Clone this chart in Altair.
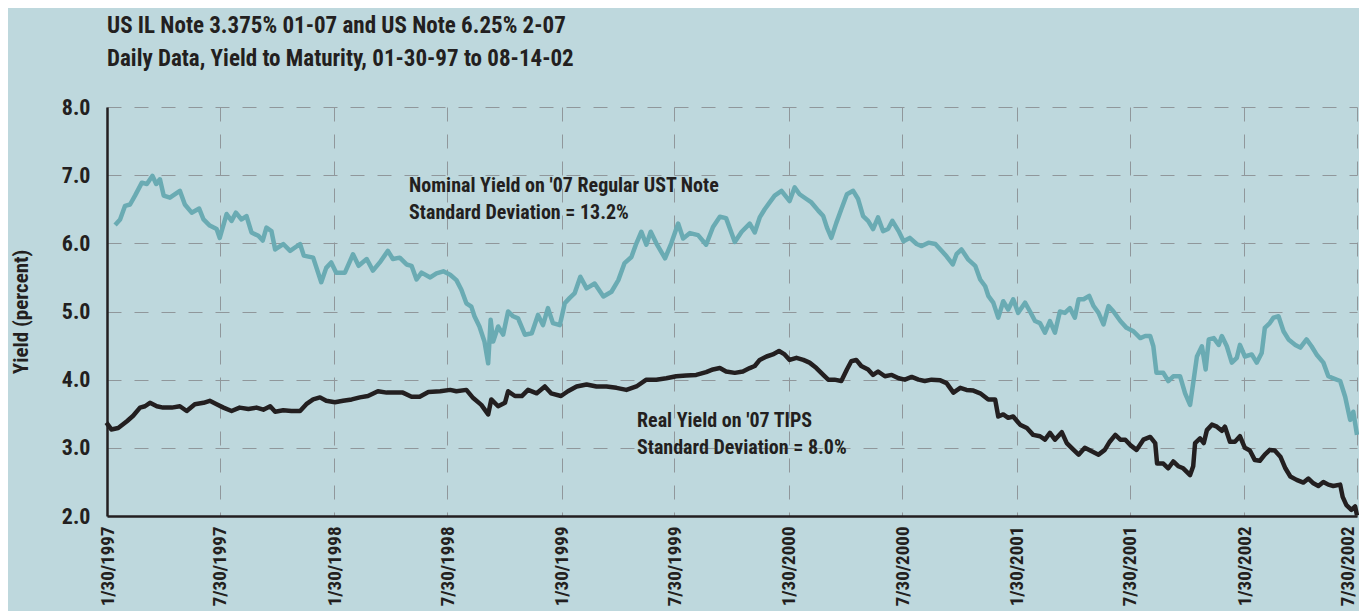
import altair as alt
import pandas as pd

TITLE = ["US IL Note 3.375% 01-07 and US Note 6.25% 2-07",
         "Daily Data, Yield to Maturity, 01-30-97 to 08-14-02"]

# time as decimal years, yields in percent
nominal_t = [
    1997.115, 1997.137, 1997.159, 1997.181, 1997.203, 1997.232, 1997.254, 1997.280, 1997.295, 1997.313,
    1997.330, 1997.357, 1997.400, 1997.422, 1997.452, 1997.485, 1997.503, 1997.532, 1997.562, 1997.576,
    1997.606, 1997.628, 1997.647, 1997.672, 1997.694, 1997.716, 1997.745, 1997.764, 1997.782, 1997.803,
    1997.818, 1997.855, 1997.884, 1997.928, 1997.946, 1997.987, 1998.023, 1998.045, 1998.067, 1998.089,
    1998.126, 1998.163, 1998.185, 1998.221, 1998.250, 1998.280, 1998.316, 1998.338, 1998.368, 1998.397,
    1998.419, 1998.441, 1998.463, 1998.500, 1998.529, 1998.558, 1998.588, 1998.617, 1998.639, 1998.661,
    1998.683, 1998.697, 1998.719, 1998.741, 1998.756, 1998.766, 1998.778, 1998.800, 1998.822, 1998.844,
    1998.866, 1998.888, 1998.917, 1998.947, 1998.976, 1998.998, 1999.020, 1999.042, 1999.071, 1999.093,
    1999.115, 1999.137, 1999.162, 1999.188, 1999.225, 1999.262, 1999.298, 1999.328, 1999.357, 1999.386,
    1999.408, 1999.430, 1999.452, 1999.470, 1999.496, 1999.533, 1999.562, 1999.591, 1999.613, 1999.643,
    1999.679, 1999.716, 1999.745, 1999.775, 1999.804, 1999.840, 1999.870, 1999.906, 1999.928, 1999.950,
    1999.972, 1999.994, 2000.016, 2000.046, 2000.082, 2000.104, 2000.126, 2000.156, 2000.178, 2000.207,
    2000.229, 2000.247, 2000.266, 2000.288, 2000.310, 2000.332, 2000.361, 2000.383, 2000.405, 2000.427,
    2000.449, 2000.471, 2000.493, 2000.515, 2000.534, 2000.559, 2000.581, 2000.610, 2000.639, 2000.661,
    2000.691, 2000.720, 2000.749, 2000.771, 2000.798, 2000.815, 2000.837, 2000.866, 2000.896, 2000.918,
    2000.940, 2000.954, 2000.976, 2000.998, 2001.020, 2001.042, 2001.064, 2001.086, 2001.116, 2001.138,
    2001.160, 2001.182, 2001.204, 2001.225, 2001.247, 2001.269, 2001.291, 2001.313, 2001.335, 2001.350,
    2001.372, 2001.398, 2001.416, 2001.438, 2001.460, 2001.482, 2001.504, 2001.533, 2001.563, 2001.592,
    2001.621, 2001.643, 2001.665, 2001.680, 2001.694, 2001.724, 2001.746, 2001.768, 2001.797, 2001.819,
    2001.841, 2001.856, 2001.870, 2001.892, 2001.910, 2001.922, 2001.944, 2001.966, 2001.980, 2002.002,
    2002.024, 2002.046, 2002.061, 2002.083, 2002.112, 2002.134, 2002.156, 2002.171, 2002.193, 2002.207,
    2002.229, 2002.251, 2002.273, 2002.303, 2002.325, 2002.354, 2002.376, 2002.398, 2002.427, 2002.449,
    2002.471, 2002.501, 2002.522, 2002.544, 2002.559, 2002.574,
]
nominal_yield = [
    6.27, 6.35, 6.55, 6.57, 6.70, 6.89, 6.87, 6.99, 6.87, 6.94,
    6.70, 6.67, 6.77, 6.57, 6.45, 6.51, 6.35, 6.26, 6.21, 6.08,
    6.43, 6.33, 6.45, 6.35, 6.40, 6.16, 6.11, 6.04, 6.23, 6.18,
    5.91, 5.99, 5.89, 5.99, 5.82, 5.79, 5.43, 5.64, 5.72, 5.57,
    5.57, 5.84, 5.67, 5.77, 5.60, 5.72, 5.89, 5.77, 5.79, 5.69,
    5.67, 5.47, 5.57, 5.50, 5.56, 5.59, 5.54, 5.46, 5.32, 5.12,
    5.07, 4.93, 4.78, 4.56, 4.24, 4.88, 4.56, 4.78, 4.66, 5.00,
    4.93, 4.90, 4.66, 4.68, 4.95, 4.80, 5.05, 4.83, 4.80, 5.12,
    5.20, 5.27, 5.51, 5.34, 5.41, 5.22, 5.29, 5.46, 5.71, 5.80,
    6.00, 6.17, 5.98, 6.17, 6.00, 5.78, 6.00, 6.29, 6.07, 6.15,
    6.12, 5.98, 6.24, 6.39, 6.37, 6.02, 6.17, 6.29, 6.16, 6.38,
    6.50, 6.60, 6.70, 6.77, 6.62, 6.82, 6.72, 6.65, 6.60, 6.48,
    6.40, 6.23, 6.08, 6.30, 6.50, 6.72, 6.77, 6.65, 6.40, 6.33,
    6.21, 6.38, 6.18, 6.21, 6.33, 6.18, 6.03, 6.08, 5.99, 5.96,
    6.01, 5.99, 5.89, 5.81, 5.69, 5.84, 5.91, 5.76, 5.67, 5.47,
    5.37, 5.23, 5.13, 4.91, 5.15, 5.03, 5.18, 4.98, 5.13, 5.00,
    4.86, 4.83, 4.69, 4.86, 4.69, 5.00, 4.98, 5.05, 4.91, 5.18,
    5.18, 5.23, 5.08, 4.98, 4.81, 5.08, 5.00, 4.86, 4.76, 4.71,
    4.61, 4.64, 4.64, 4.49, 4.10, 4.10, 3.98, 4.05, 4.05, 3.80,
    3.63, 3.95, 4.34, 4.49, 4.15, 4.59, 4.61, 4.51, 4.64, 4.49,
    4.25, 4.32, 4.51, 4.34, 4.37, 4.25, 4.39, 4.76, 4.83, 4.91,
    4.93, 4.71, 4.59, 4.51, 4.47, 4.59, 4.49, 4.37, 4.25, 4.05,
    4.02, 3.98, 3.75, 3.41, 3.53, 3.19,
]

real_t = [
    1997.078, 1997.100, 1997.129, 1997.166, 1997.195, 1997.225, 1997.247, 1997.269, 1997.298, 1997.327,
    1997.364, 1997.400, 1997.430, 1997.466, 1997.503, 1997.532, 1997.562, 1997.591, 1997.628, 1997.664,
    1997.701, 1997.738, 1997.767, 1997.796, 1997.818, 1997.855, 1997.891, 1997.928, 1997.957, 1997.987,
    1998.016, 1998.045, 1998.082, 1998.119, 1998.155, 1998.192, 1998.228, 1998.272, 1998.309, 1998.346,
    1998.382, 1998.419, 1998.456, 1998.492, 1998.544, 1998.588, 1998.617, 1998.661, 1998.690, 1998.727,
    1998.756, 1998.771, 1998.800, 1998.829, 1998.844, 1998.873, 1998.903, 1998.932, 1998.969, 1999.005,
    1999.034, 1999.078, 1999.108, 1999.144, 1999.188, 1999.232, 1999.276, 1999.320, 1999.364, 1999.408,
    1999.452, 1999.496, 1999.540, 1999.584, 1999.628, 1999.672, 1999.716, 1999.745, 1999.775, 1999.804,
    1999.840, 1999.877, 1999.906, 1999.928, 1999.950, 1999.980, 2000.009, 2000.035, 2000.060, 2000.082,
    2000.112, 2000.141, 2000.170, 2000.200, 2000.229, 2000.251, 2000.280, 2000.309, 2000.332, 2000.353,
    2000.375, 2000.397, 2000.427, 2000.449, 2000.471, 2000.500, 2000.529, 2000.559, 2000.588, 2000.617,
    2000.647, 2000.676, 2000.705, 2000.742, 2000.771, 2000.800, 2000.830, 2000.859, 2000.888, 2000.918,
    2000.954, 2000.984, 2000.998, 2001.020, 2001.042, 2001.064, 2001.094, 2001.123, 2001.152, 2001.182,
    2001.204, 2001.225, 2001.247, 2001.277, 2001.299, 2001.328, 2001.350, 2001.379, 2001.409, 2001.438,
    2001.467, 2001.489, 2001.511, 2001.533, 2001.555, 2001.577, 2001.606, 2001.636, 2001.665, 2001.687,
    2001.697, 2001.724, 2001.746, 2001.768, 2001.790, 2001.812, 2001.841, 2001.856, 2001.863, 2001.885,
    2001.900, 2001.914, 2001.936, 2001.958, 2001.980, 2001.995, 2002.017, 2002.039, 2002.061, 2002.083,
    2002.105, 2002.127, 2002.149, 2002.171, 2002.193, 2002.215, 2002.237, 2002.259, 2002.281, 2002.310,
    2002.340, 2002.362, 2002.383, 2002.405, 2002.427, 2002.449, 2002.471, 2002.501, 2002.512, 2002.530,
    2002.552, 2002.567, 2002.574,
]
real_yield = [
    3.37, 3.27, 3.29, 3.39, 3.47, 3.59, 3.61, 3.66, 3.61, 3.59,
    3.59, 3.61, 3.54, 3.64, 3.66, 3.69, 3.64, 3.59, 3.54, 3.59,
    3.57, 3.59, 3.56, 3.61, 3.53, 3.55, 3.54, 3.54, 3.64, 3.71,
    3.74, 3.69, 3.67, 3.69, 3.71, 3.74, 3.76, 3.83, 3.81, 3.81,
    3.81, 3.75, 3.75, 3.82, 3.83, 3.85, 3.83, 3.85, 3.73, 3.63,
    3.49, 3.71, 3.61, 3.66, 3.83, 3.76, 3.76, 3.85, 3.80, 3.90,
    3.80, 3.76, 3.83, 3.90, 3.93, 3.90, 3.90, 3.88, 3.85, 3.90,
    4.00, 4.00, 4.02, 4.05, 4.06, 4.07, 4.11, 4.15, 4.17, 4.12,
    4.10, 4.12, 4.17, 4.20, 4.29, 4.34, 4.37, 4.42, 4.37, 4.29,
    4.32, 4.29, 4.25, 4.17, 4.07, 4.00, 4.00, 3.98, 4.15, 4.27,
    4.29, 4.20, 4.15, 4.07, 4.12, 4.05, 4.07, 4.02, 4.00, 4.04,
    4.00, 3.98, 4.00, 3.99, 3.95, 3.81, 3.88, 3.85, 3.84, 3.80,
    3.71, 3.71, 3.46, 3.49, 3.44, 3.46, 3.34, 3.29, 3.19, 3.17,
    3.12, 3.22, 3.12, 3.23, 3.07, 2.97, 2.90, 3.00, 2.95, 2.90,
    2.97, 3.09, 3.19, 3.12, 3.12, 3.04, 2.97, 3.12, 3.16, 3.07,
    2.77, 2.77, 2.70, 2.80, 2.73, 2.70, 2.60, 2.73, 3.07, 3.14,
    3.07, 3.26, 3.34, 3.31, 3.25, 3.31, 3.09, 3.09, 3.17, 3.00,
    2.96, 2.82, 2.81, 2.90, 2.97, 2.96, 2.87, 2.70, 2.58, 2.53,
    2.49, 2.55, 2.48, 2.44, 2.50, 2.46, 2.44, 2.46, 2.28, 2.16,
    2.09, 2.14, 2.01,
]

tick_dates = [(1997, 1), (1997, 7), (1998, 1), (1998, 7), (1999, 1), (1999, 7),
              (2000, 1), (2000, 7), (2001, 1), (2001, 7), (2002, 1), (2002, 7)]
y_ticks = [2, 3, 4, 5, 6, 7, 8]

note_text = ["Nominal Yield on '07 Regular UST Note\nStandard Deviation = 13.2%",
             "Real Yield on '07 TIPS\nStandard Deviation = 8.0%"]
note_t = [1998.407, 1999.410]
note_y = [6.75, 3.31]

SERIES = ["Nominal", "Real"]
COLORS = ["#6aabb3", "#231f20"]
FONT = "Roboto Condensed, DejaVu Sans Condensed, sans-serif"
INK = "#231f20"
BG = "#bed8dd"


def to_date(t):
    y = int(t)
    start = pd.Timestamp(year=y, month=1, day=1)
    end = pd.Timestamp(year=y + 1, month=1, day=1)
    return start + (end - start) * (t - y)


df = pd.concat([
    pd.DataFrame({"date": [to_date(t) for t in nominal_t], "yield": nominal_yield, "series": SERIES[0]}),
    pd.DataFrame({"date": [to_date(t) for t in real_t], "yield": real_yield, "series": SERIES[1]}),
], ignore_index=True)
df["date"] = df["date"].dt.round("D")

notes = pd.DataFrame({"date": [to_date(t).round("D") for t in note_t], "yield": note_y, "text": note_text})

x_scale = alt.Scale(domain=[alt.DateTime(year=1997, month=1, date=30),
                            alt.DateTime(year=2002, month=7, date=30)])
y_scale = alt.Scale(domain=[2, 8], nice=False, zero=False)

# nudge only the last (right-edge) label inward so it stays inside the picture
last_label_shift = alt.condition("datum.value > datetime(2002, 5, 1)", alt.value(-10), alt.value(0))

x_axis = alt.Axis(
    values=[alt.DateTime(year=y, month=m, date=30) for y, m in tick_dates],
    format="%-m/%d/%Y", labelAngle=-90, title=None, grid=True, ticks=False,
    labelPadding=10, labelFontSize=19, labelFont=FONT, labelFontWeight="bold",
    labelColor=INK, labelOverlap=False, labelBound=False, labelFlush=False,
    labelOffset=last_label_shift,
    domainColor=INK, domainWidth=2.5,
)
y_axis = alt.Axis(
    values=y_ticks, format=".1f", title="Yield (percent)", grid=True, ticks=False,
    labelPadding=17, labelFontSize=22, labelFont=FONT, labelFontWeight="bold",
    labelColor=INK, titleFont=FONT, titleFontSize=21, titleFontWeight="bold",
    titleColor=INK, titlePadding=30, domainColor=INK, domainWidth=2.5,
)

lines = alt.Chart(df).mark_line(strokeWidth=4.5, strokeJoin="round").encode(
    x=alt.X("date:T", scale=x_scale, axis=x_axis),
    y=alt.Y("yield:Q", scale=y_scale, axis=y_axis),
    color=alt.Color("series:N", scale=alt.Scale(domain=SERIES, range=COLORS), legend=None),
)

labels = alt.Chart(notes).mark_text(
    align="left", baseline="alphabetic", lineBreak="\n", lineHeight=27,
    font=FONT, fontSize=20, fontWeight="bold", color=INK,
).encode(
    x=alt.X("date:T", scale=x_scale),
    y=alt.Y("yield:Q", scale=y_scale),
    text="text:N",
)

chart = alt.layer(lines, labels).properties(
    width=1250, height=409,
    title=alt.Title(TITLE, anchor="start", font=FONT, fontSize=23, fontWeight="bold",
                    color=INK, lineHeight=33, offset=25, frame="group"),
    autosize=alt.AutoSizeParams(type="none"),
    padding={"left": 99, "top": 99, "right": 2, "bottom": 95},
    background=BG,
).configure_view(stroke=None).configure_axis(
    gridColor="#90979b", gridDash=[14, 13], gridWidth=1,
)

chart.save("out.html", embed_options={"renderer": "svg", "actions": False})
